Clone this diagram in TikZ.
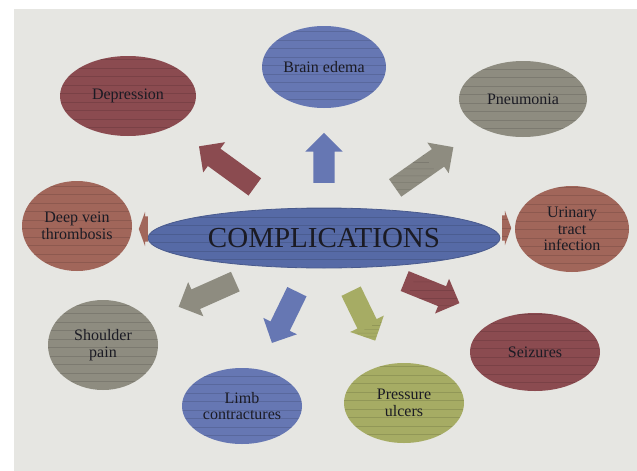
\documentclass[tikz,border=0pt]{standalone}
\usepackage{fontspec}
\setmainfont{Liberation Serif}
\usetikzlibrary{shapes.geometric,shapes.arrows}
\definecolor{cblue}{HTML}{6677B3}
\definecolor{cbluedk}{HTML}{566AA6}
\definecolor{cmaroon}{HTML}{8B4B50}
\definecolor{cbrick}{HTML}{A1665A}
\definecolor{cgrey}{HTML}{8E8C80}
\definecolor{colive}{HTML}{A6AC64}
\definecolor{cpaper}{HTML}{E6E6E2}
\definecolor{cink}{HTML}{1B1B24}

\begin{document}
\begin{tikzpicture}[x=1pt,y=-1pt,
  stripes/.style={path picture={\foreach \k in {1,...,14}
      \draw[black,opacity=.12,line width=.5pt]
        ([yshift=\k*8.5pt]path picture bounding box.south west) --
        ([yshift=\k*8.5pt]path picture bounding box.south east);}},
  blob/.style={ellipse,fill=#1,stripes,inner sep=0pt,align=center,
               font=\fontsize{16}{16.5}\selectfont,text=cink},
  blk/.style={single arrow,fill=#1,stripes,inner xsep=0pt,inner ysep=10.5pt,
              single arrow head extend=8pt,anchor=tail},
  nub/.style={blk=#1,inner ysep=12.5pt,single arrow head extend=4.5pt,
              single arrow tip angle=140,minimum height=9pt}]

  % paper
  \useasboundingbox (0,0) rectangle (637,471);
  \fill[white] (0,0) rectangle (637,471);
  \fill[cpaper] (14,9) rectangle (637,471);

  % hub
  \node[blob=cbluedk,draw=cbluedk!85!black,line width=.8pt,
        minimum width=352pt,minimum height=60pt,
        font=\fontsize{29}{30}\selectfont] (cen) at (324,238) {COMPLICATIONS};

  % outer ellipses
  \node[blob=cblue,minimum width=124pt,minimum height=82pt] (brain) at (324,67) {Brain edema};
  \node[blob=cmaroon,minimum width=136pt,minimum height=80pt] (dep) at (128,96) {Depression};
  \node[blob=cgrey,minimum width=128pt,minimum height=76pt] (pneu) at (523,99) {Pneumonia};
  \node[blob=cbrick,minimum width=110pt,minimum height=90pt] (dvt) at (77,226) {Deep vein\\thrombosis};
  \node[blob=cbrick,minimum width=114pt,minimum height=86pt] (uti) at (572,229) {Urinary\\tract\\infection};
  \node[blob=cgrey,minimum width=110pt,minimum height=90pt] (sho) at (103,345) {Shoulder\\pain};
  \node[blob=cblue,minimum width=120pt,minimum height=76pt] (limb) at (242,406) {Limb\\contractures};
  \node[blob=colive,minimum width=120pt,minimum height=80pt] (pres) at (404,403) {Pressure\\ulcers};
  \node[blob=cmaroon,minimum width=130pt,minimum height=78pt] (seiz) at (535,352) {Seizures};

  % block arrows
  \node[blk=cblue,minimum height=50pt,rotate=90] (aup) at (324,183) {};
  \node[blk=cmaroon,minimum height=69pt,rotate=144] (adep) at (255,187) {};
  \node[blk=cgrey,minimum height=71pt,rotate=35] (apneu) at (395,188) {};
  \node[blk=cgrey,minimum height=62pt,rotate=204] (asho) at (235.5,281.5) {};
  \node[blk=cblue,minimum height=57pt,rotate=244] (alimb) at (297,291.5) {};
  \node[blk=colive,minimum height=55pt,rotate=296] (apres) at (351,291) {};
  \node[blk=cmaroon,minimum height=59pt,rotate=338] (aseiz) at (404.5,281) {};
  \node[nub=cbrick,rotate=180] (advt) at (148,229) {};
  \node[nub=cbrick] (auti) at (502,228) {};
\end{tikzpicture}
\end{document}
